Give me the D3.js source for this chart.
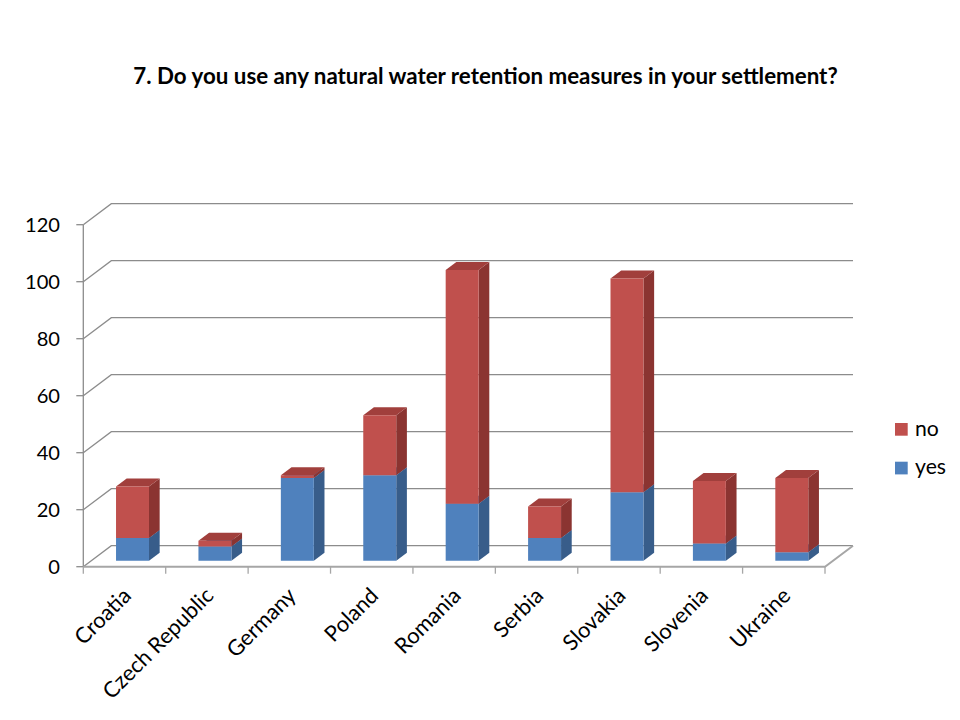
<!DOCTYPE html>
<html>
<head>
<meta charset="utf-8">
<script src="https://cdn.jsdelivr.net/npm/d3@7"></script>
<style>
  html, body { margin: 0; padding: 0; background: #ffffff; }
  svg { display: block; }
</style>
</head>
<body>
<svg id="chart" width="960" height="720"></svg>
<script>
const title = "7. Do you use any natural water retention measures in your settlement?";
const categories = ["Croatia", "Czech Republic", "Germany", "Poland", "Romania", "Serbia", "Slovakia", "Slovenia", "Ukraine"];
const yesValues = [8, 5, 29, 30, 20, 8, 24, 6, 3];
const noValues = [18, 2, 1, 21, 82, 11, 75, 22, 26];
const yTicks = [0, 20, 40, 60, 80, 100, 120];
const seriesNames = ["yes", "no"];

const FONT = "Lato, 'Open Sans', sans-serif";
const svg = d3.select("#chart");

// layout
const plotLeft = 83.3, plotRight = 825, yBottom = 566.7, yTop = 224.7;
const depthX = 28, depthY = -21;
const d0 = 0.286, d1 = 0.667;

const x = d3.scaleBand().domain(categories).range([plotLeft, plotRight]).paddingInner(0).paddingOuter(0);
const y = d3.scaleLinear().domain([0, 120]).range([yBottom, yTop]);
const barW = x.bandwidth() * 0.4;

const colors = {
  yes: { front: "#4F81BD", side: "#385D8A", top: "#4A78B0" },
  no:  { front: "#C0504D", side: "#8B3431", top: "#A13F3C" }
};

// fit helper
function fitSize(text, weight, targetWidth) {
  const t = svg.append("text").attr("font-family", FONT).attr("font-weight", weight)
    .attr("font-size", 100).text(text);
  const w = t.node().getComputedTextLength();
  t.remove();
  return 100 * targetWidth / w;
}

const titleSize = fitSize(title, "bold", 705);
const tickSize = fitSize("120", "normal", 35);
const catSize = fitSize("Czech Republic", "normal", 146);
const legSize = fitSize("yes", "normal", 31);

// title
svg.append("text")
  .attr("x", 485.5).attr("y", 84)
  .attr("text-anchor", "middle")
  .attr("font-family", FONT).attr("font-weight", "bold")
  .attr("font-size", titleSize).attr("fill", "#000")
  .text(title);

// gridlines (left wall diagonal + back wall)
const grid = svg.append("g");
yTicks.forEach(t => {
  const yy = y(t);
  grid.append("path")
    .attr("d", `M${plotLeft},${yy} L${plotLeft + depthX},${yy + depthY} L${plotRight + depthX},${yy + depthY}`)
    .attr("fill", "none").attr("stroke", "#8C8C8C").attr("stroke-width", 1.3);
  grid.append("line")
    .attr("x1", plotLeft - 7).attr("x2", plotLeft).attr("y1", yy).attr("y2", yy)
    .attr("stroke", "#8C8C8C").attr("stroke-width", 1.3);
});
// vertical axis line
grid.append("line")
  .attr("x1", plotLeft).attr("x2", plotLeft).attr("y1", y(0)).attr("y2", y(120))
  .attr("stroke", "#8C8C8C").attr("stroke-width", 1.3);

// floor front + right edge
grid.append("path")
  .attr("d", `M${plotLeft},${y(0)} L${plotRight},${y(0)} L${plotRight + depthX},${y(0) + depthY}`)
  .attr("fill", "none").attr("stroke", "#A6A6A6").attr("stroke-width", 2);

// category ticks
const edges = categories.map(c => x(c)).concat([plotRight]);
edges.forEach(e => {
  grid.append("line")
    .attr("x1", e).attr("x2", e).attr("y1", y(0)).attr("y2", y(0) + 7)
    .attr("stroke", "#A6A6A6").attr("stroke-width", 1.3);
});

// y tick labels
svg.append("g").selectAll("text").data(yTicks).join("text")
  .attr("x", 60).attr("y", d => y(d))
  .attr("dy", "0.35em")
  .attr("text-anchor", "end")
  .attr("font-family", FONT).attr("font-size", tickSize).attr("fill", "#000")
  .text(d => d);

// stacked 3D bars
const table = categories.map((c, i) => ({ category: c, yes: yesValues[i], no: noValues[i] }));
const stack = d3.stack().keys(seriesNames)(table);

function prism(c, v0, v1) {
  const cx = x(c) + x.bandwidth() / 2;
  const xl = cx - barW / 2, xr = cx + barW / 2;
  const ox0 = depthX * d0, oy0 = depthY * d0;
  const ox1 = depthX * d1, oy1 = depthY * d1;
  const yb = y(v0), yt = y(v1);
  return {
    front: [[xl + ox0, yt + oy0], [xr + ox0, yt + oy0], [xr + ox0, yb + oy0], [xl + ox0, yb + oy0]],
    side: [[xr + ox0, yt + oy0], [xr + ox1, yt + oy1], [xr + ox1, yb + oy1], [xr + ox0, yb + oy0]],
    top: [[xl + ox0, yt + oy0], [xl + ox1, yt + oy1], [xr + ox1, yt + oy1], [xr + ox0, yt + oy0]]
  };
}
const line = d3.line();
const bars = svg.append("g");
categories.forEach((c, i) => {
  stack.forEach(s => {
    const seg = s[i];
    const p = prism(c, seg[0], seg[1]);
    const col = colors[s.key];
    bars.append("path").attr("d", line(p.side) + "Z").attr("fill", col.side);
    bars.append("path").attr("d", line(p.top) + "Z").attr("fill", col.top);
    bars.append("path").attr("d", line(p.front) + "Z").attr("fill", col.front);
  });
});

// category labels
svg.append("g").selectAll("text").data(categories).join("text")
  .attr("transform", d => `translate(${x(d) + x.bandwidth() / 2 + 8},${597}) rotate(-45)`)
  .attr("text-anchor", "end")
  .attr("font-family", FONT).attr("font-size", catSize).attr("fill", "#000")
  .text(d => d);

// legend
const legendItems = ["no", "yes"];
const leg = svg.append("g");
legendItems.forEach((k, i) => {
  const top = 423 + i * 38.7;
  leg.append("rect").attr("x", 895).attr("y", top).attr("width", 12.7).attr("height", 12.7)
    .attr("fill", colors[k].front);
  leg.append("text").attr("x", 915).attr("y", top + 12.7)
    .attr("font-family", FONT).attr("font-size", legSize).attr("fill", "#000")
    .text(k);
});
</script>
</body>
</html>
